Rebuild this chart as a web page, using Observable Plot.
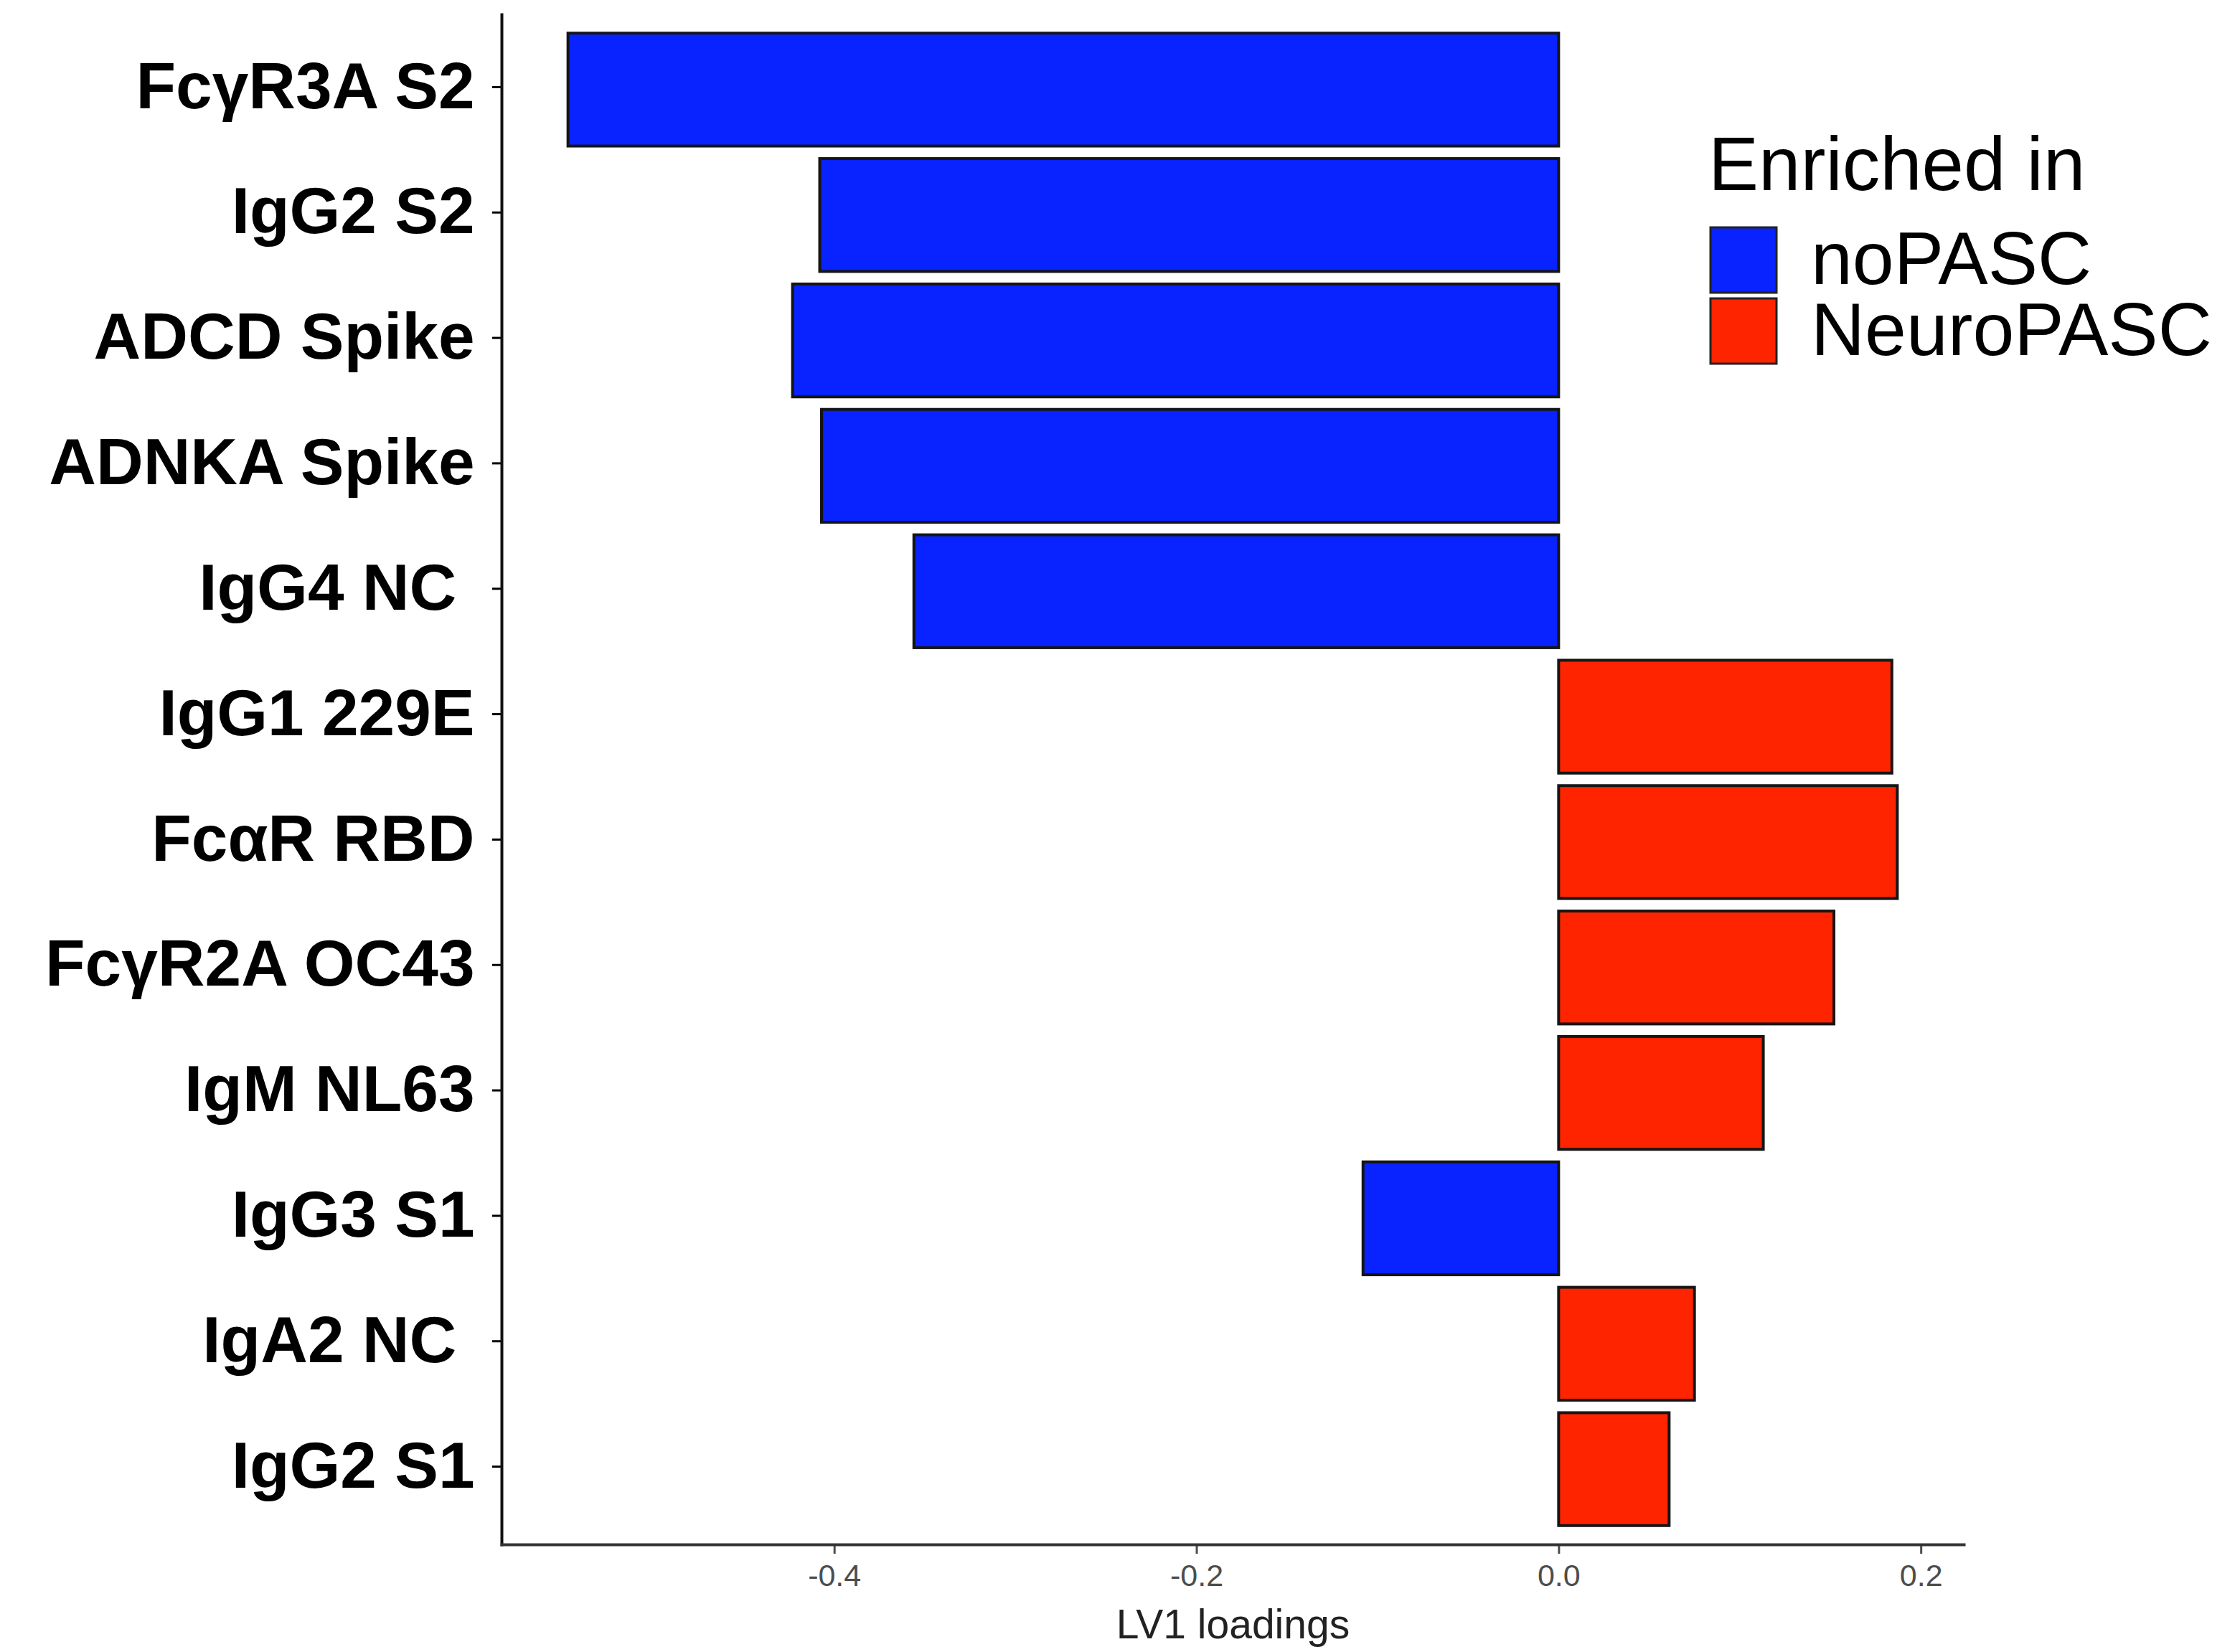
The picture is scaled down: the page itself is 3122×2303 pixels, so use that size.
<!DOCTYPE html>
<html>
<head>
<meta charset="utf-8">
<script src="https://cdn.jsdelivr.net/npm/d3@7"></script>
<script src="https://cdn.jsdelivr.net/npm/@observablehq/plot@0.6"></script>
<style>
  html, body { margin: 0; padding: 0; background: #fff; }
  #chart { position: relative; width: 3122px; height: 2303px; font-family: "Liberation Sans", Arial, sans-serif; }
  #chart > svg { position: absolute; left: 0; top: 0; }
</style>
</head>
<body>
<div id="chart"></div>
<script>
// Features ordered top to bottom, with their LV1 loadings
const features = [
  "FcγR3A S2", "IgG2 S2", "ADCD Spike", "ADNKA Spike", "IgG4 NC\u00a0", "IgG1 229E",
  "FcαR RBD", "FcγR2A OC43", "IgM NL63", "IgG3 S1", "IgA2 NC\u00a0", "IgG2 S1"
];
const loadings = [
  -0.547, -0.408, -0.423, -0.407, -0.356, 0.184,
  0.187, 0.152, 0.113, -0.108, 0.075, 0.061
];
// Group a feature is enriched in: negative loadings -> noPASC, positive -> NeuroPASC
const groups = ["noPASC", "NeuroPASC"];
const groupColors = ["#0823ff", "#ff2400"];
const xTicks = [-0.4, -0.2, 0.0, 0.2];
const xLabel = "LV1 loadings";
const legendTitle = "Enriched in";

const rows = features.map((feature, i) => ({
  feature,
  loading: loadings[i],
  group: loadings[i] < 0 ? groups[0] : groups[1]
}));

// x domain padded 5% on each side of the data range
const lo = d3.min(loadings), hi = d3.max(loadings);
const pad = (hi - lo) * 0.05;
const xDomain = [lo - pad, hi + pad];

const fmt = d => (d < 0 ? "-" : "") + Math.abs(d).toFixed(1);

const chart = Plot.plot({
  width: 3122,
  height: 2303,
  marginLeft: 699,
  marginRight: 385,
  marginTop: 20,
  marginBottom: 150,
  style: { fontFamily: "'Liberation Sans', Arial, sans-serif", background: "#fff", overflow: "visible" },
  x: { domain: xDomain },
  y: { domain: features, paddingInner: 0.1, paddingOuter: 0.15, round: false },
  color: { domain: groups, range: groupColors },
  marks: [
    Plot.barX(rows, {
      x1: 0, x2: "loading", y: "feature", fill: "group",
      stroke: "#151515", strokeWidth: 4
    }),
    Plot.axisY({
      tickSize: 13, tickPadding: 25, fontSize: 91, fontWeight: "bold",
      color: "#000", strokeWidth: 3, label: null, dy: -4
    }),
    Plot.axisX({
      ticks: xTicks, tickFormat: fmt, tickSize: 13, tickPadding: 14,
      fontSize: 43, color: "#4d4d4d", strokeWidth: 3, label: null
    }),
    Plot.frame({ anchor: "left", stroke: "#111", strokeWidth: 4 }),
    Plot.frame({ anchor: "bottom", stroke: "#333", strokeWidth: 4 }),
    Plot.text([xLabel], {
      frameAnchor: "bottom", lineAnchor: "bottom", dy: 130, fontSize: 57, fill: "#222"
    })
  ]
});

const root = document.getElementById("chart");
root.appendChild(chart);

// Legend for the fill scale, placed at the upper right
const color = chart.scale("color");
const legend = d3.create("svg")
  .attr("width", 3122)
  .attr("height", 600)
  .style("pointer-events", "none")
  .style("font-family", "'Liberation Sans', Arial, sans-serif");

legend.append("text")
  .attr("x", 2381).attr("y", 265)
  .attr("font-size", 105).attr("fill", "#000")
  .text(legendTitle);

const swatchTop = [317, 416];
color.domain.forEach((g, i) => {
  legend.append("rect")
    .attr("x", 2384).attr("y", swatchTop[i])
    .attr("width", 92).attr("height", 91)
    .attr("fill", color.apply(g))
    .attr("stroke", "#222").attr("stroke-width", 3);
  legend.append("text")
    .attr("x", 2524).attr("y", swatchTop[i] + 79)
    .attr("font-size", 104).attr("fill", "#000")
    .text(g);
});

root.appendChild(legend.node());
</script>
</body>
</html>
